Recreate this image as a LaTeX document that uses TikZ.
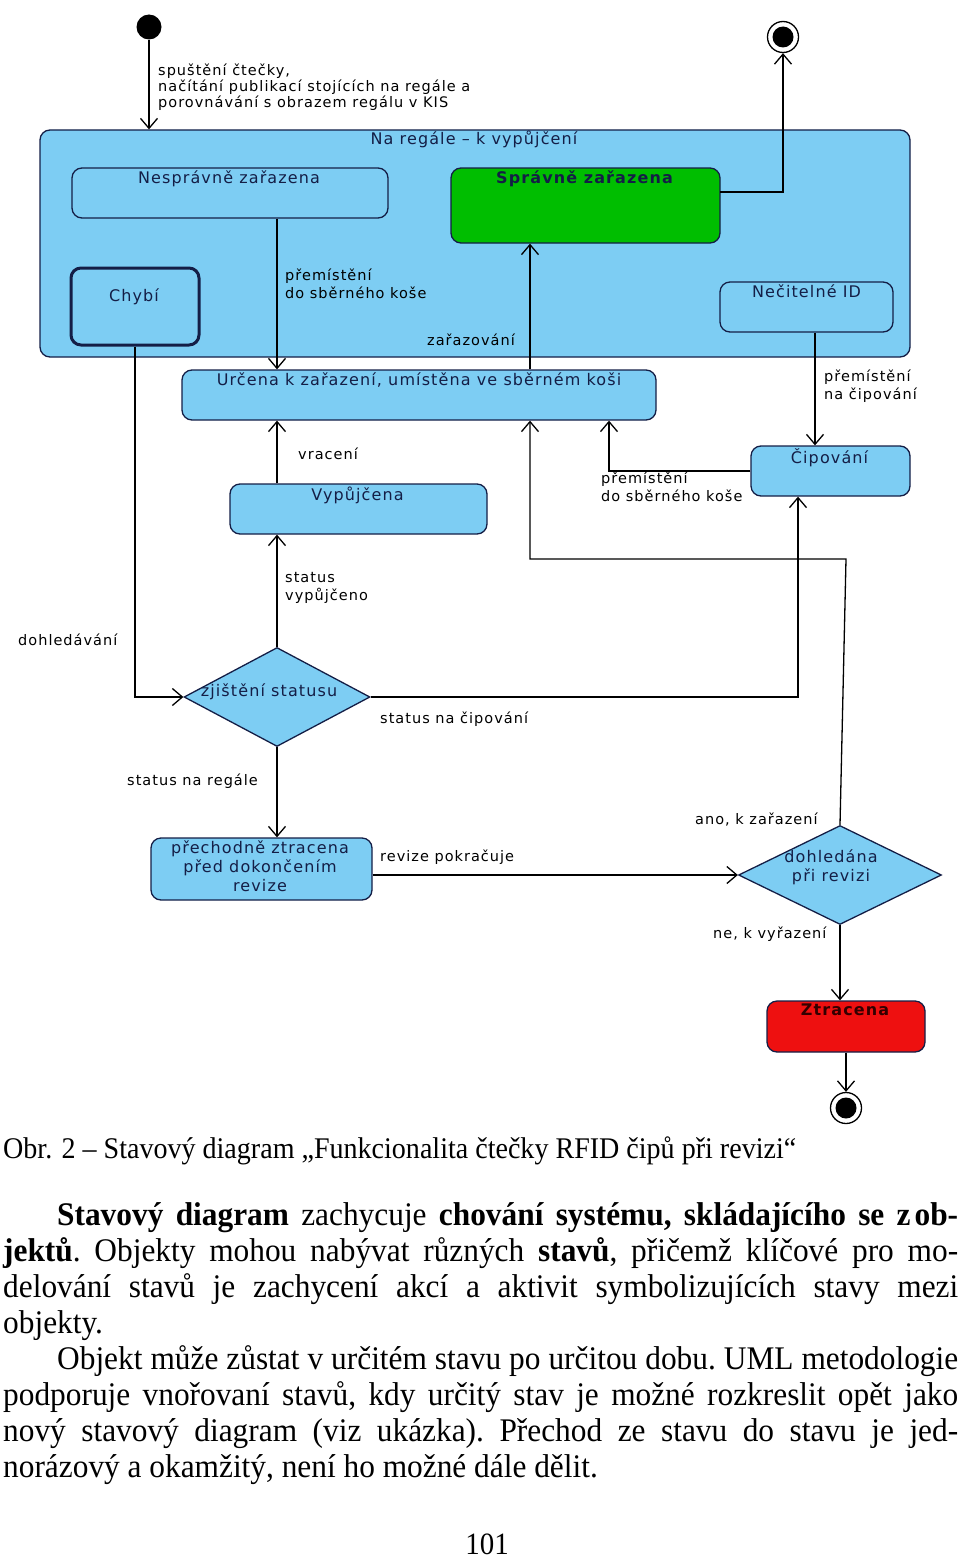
\documentclass[tikz,border=0pt]{standalone}
\usepackage{fontspec}
\usetikzlibrary{arrows.meta,shapes.geometric,calc}
\newfontfamily\diag{DejaVu Sans}[LetterSpace=7]
\newfontfamily\bodyfont{Liberation Serif}[FakeStretch=0.95]
\newfontfamily\capfont{Liberation Serif}[FakeStretch=0.935]
\definecolor{uml}{RGB}{125,205,243}
\definecolor{umlgreen}{RGB}{0,190,0}
\definecolor{umlred}{RGB}{238,16,16}
\definecolor{navy}{RGB}{20,30,70}
\tikzset{
  conn/.style={line width=1.3pt, draw=black},
  arr/.style={conn, -{Straight Barb[length=10pt,width=17pt]}},
  stbox/.style={draw=navy, line width=1.3pt, rounded corners=10pt, fill=uml, inner sep=0pt},
  ttl/.style={font=\diag\fontsize{16}{19}\selectfont, text=navy, inner sep=0pt, align=center},
  lbl/.style={font=\diag\fontsize{14.5}{18}\selectfont, inner sep=0pt, align=left},
  body/.style={font=\bodyfont\fontsize{33}{36}\selectfont\frenchspacing, inner sep=0pt, anchor=base west},
}
\begin{document}
\begin{tikzpicture}[x=1pt,y=-1pt]
\useasboundingbox (0,0) rectangle (960,1560);
% outer composite state
\node[stbox, minimum width=870pt, minimum height=227pt] (outer) at (475,243.5) {};
\node[ttl] (outert) at (474,139) {Na regále – k vypůjčení};
% states
\node[stbox, minimum width=316pt, minimum height=50pt] (nespr) at (230,193) {};
\node[ttl, anchor=north] (nesprt) at ($(nespr.north)+(-1,3)$) {Nesprávně zařazena};
\node[stbox, fill=umlgreen, minimum width=269pt, minimum height=75pt] (sprav) at (585.5,205.5) {};
\node[ttl, anchor=north, font=\diag\bfseries\fontsize{16}{19}\selectfont] (spravt) at ($(sprav.north)+(-1,3)$) {Správně zařazena};
\node[stbox, line width=3pt, minimum width=128pt, minimum height=77pt] (chyb) at (135,306.5) {};
\node[ttl] (chybt) at (134,297) {Chybí};
\node[stbox, minimum width=173pt, minimum height=50pt] (nec) at (806.5,307) {};
\node[ttl, anchor=north] (nect) at ($(nec.north)+(0,3)$) {Nečitelné ID};
\node[stbox, minimum width=474pt, minimum height=50pt] (urc) at (419,395) {};
\node[ttl, anchor=north] (urct) at ($(urc.north)+(0,3)$) {Určena k zařazení, umístěna ve sběrném koši};
\node[stbox, minimum width=159pt, minimum height=50pt] (cip) at (830.5,471) {};
\node[ttl, anchor=north] (cipt) at ($(cip.north)+(-1,3)$) {Čipování};
\node[stbox, minimum width=257pt, minimum height=50pt] (vyp) at (358.5,509) {};
\node[ttl, anchor=north] (vypt) at ($(vyp.north)+(-1,3)$) {Vypůjčena};
\node[stbox, minimum width=221pt, minimum height=62pt] (prech) at (261.5,869) {};
\node[ttl, font=\diag\fontsize{16}{19}\selectfont] (precht) at (260,866) {přechodně ztracena\\před dokončením\\revize};
\node[stbox, fill=umlred, minimum width=158pt, minimum height=51pt] (ztr) at (846,1026.5) {};
\node[ttl, anchor=north, text=black!80!red, font=\diag\bfseries\fontsize{16}{19}\selectfont] (ztrt) at ($(ztr.north)+(-1,3)$) {Ztracena};
% decisions
\node[diamond, draw=navy, fill=uml, line width=1.3pt, minimum width=186pt, minimum height=99pt, inner sep=0pt] (zj) at (277,697) {};
\node[ttl] (zjt) at (269,692) {zjištění statusu};
\node[diamond, draw=navy, fill=uml, line width=1.3pt, minimum width=203pt, minimum height=99pt, inner sep=0pt] (dohl) at (840,875) {};
\node[ttl] (dohlt) at (831,867) {dohledána\\při revizi};
% pseudo states
\node[circle, fill=black, minimum size=25pt, inner sep=0pt] (init) at (149,27) {};
\node[circle, draw=black, fill=white, line width=1.3pt, minimum size=31pt, inner sep=0pt] (fin1) at (783,37) {};
\node[circle, fill=black, minimum size=21pt, inner sep=0pt] (fin1c) at (fin1) {};
\node[circle, draw=black, fill=white, line width=1.3pt, minimum size=31pt, inner sep=0pt] (fin2) at (846,1108) {};
\node[circle, fill=black, minimum size=21pt, inner sep=0pt] (fin2c) at (fin2) {};
% column coordinates
\coordinate (c277) at (277,0);
\coordinate (c530) at (530,0);
\coordinate (c609) at (609,0);
\coordinate (c798) at (798,0);
\coordinate (c815) at (815,0);
\coordinate (s1) at (720,192);
\coordinate (k1) at (846,559);
% connectors
\draw[arr] (init) -- (init |- outer.north);
\draw[arr] (s1) -| (fin1.south);
\draw[arr] (nespr.south -| c277) -- (urc.north -| c277);
\draw[arr] (urc.north -| c530) -- (sprav.south -| c530);
\draw[arr] (nec.south -| c815) -- (cip.north -| c815);
\draw[arr] (cip.west) -| (urc.south -| c609);
\draw[arr] (vyp.north -| c277) -- (urc.south -| c277);
\draw[arr] (zj.north) -- (vyp.south -| zj.north);
\draw[arr] (chyb.south) |- (zj.west);
\draw[arr] (zj.east) -| (cip.south -| c798);
\draw[arr] (zj.south) -- (prech.north -| zj.south);
\draw[arr] (prech.east |- dohl.west) -- (dohl.west);
\draw[arr] (dohl.north) -- (k1) -| (urc.south -| c530);
\draw[arr] (dohl.south) -- (ztr.north -| dohl.south);
\draw[arr] (ztr.south) -- (fin2.north);
% labels
\node[lbl, anchor=north west, font=\diag\fontsize{14.5}{16}\selectfont] (l1) at (158,64) {spuštění čtečky,\\načítání publikací stojících na regále a\\porovnávání s obrazem regálu v KIS};
\node[lbl, anchor=north west] (l2) at (285,269) {přemístění\\do sběrného koše};
\node[lbl, anchor=west] (l3) at (427,340) {zařazování};
\node[lbl, anchor=north west] (l4) at (824,370) {přemístění\\na čipování};
\node[lbl, anchor=west] (l5) at (298,454) {vracení};
\node[lbl, anchor=north west] (l6) at (601,472) {přemístění\\do sběrného koše};
\node[lbl, anchor=north west] (l7) at (285,572) {status\\vypůjčeno};
\node[lbl, anchor=west] (l8) at (18,640) {dohledávání};
\node[lbl, anchor=west] (l9) at (380,719) {status na čipování};
\node[lbl, anchor=west] (l10) at (127,781) {status na regále};
\node[lbl, anchor=west] (l11) at (380,857) {revize pokračuje};
\node[lbl, anchor=west] (l12) at (695,820) {ano, k zařazení};
\node[lbl, anchor=west] (l13) at (713,934) {ne, k vyřazení};
% caption and body text
\node[body, font=\capfont\fontsize{30}{36}\selectfont] (cap) at (3,1158) {Obr. 2 – Stavový diagram „Funkcionalita čtečky RFID čipů při revizi“};
\node[body] (b1) at (3,1225) {\makebox[955pt][s]{\hspace*{54pt}\textbf{Stavový diagram} zachycuje \textbf{chování systému, skládajícího se z\hspace{4pt}ob-}}};
\node[body] (b2) at (3,1261) {\makebox[955pt][s]{\textbf{jektů}. Objekty mohou nabývat různých \textbf{stavů}, přičemž klíčové pro mo-}};
\node[body] (b3) at (3,1297) {\makebox[955pt][s]{delování stavů je zachycení akcí a aktivit symbolizujících stavy mezi}};
\node[body] (b4) at (3,1333) {objekty.};
\node[body] (b5) at (3,1369) {\makebox[955pt][s]{\hspace*{54pt}Objekt může zůstat v určitém stavu po určitou dobu. UML metodologie}};
\node[body] (b6) at (3,1405) {\makebox[955pt][s]{podporuje vnořovaní stavů, kdy určitý stav je možné rozkreslit opět jako}};
\node[body] (b7) at (3,1441) {\makebox[955pt][s]{nový stavový diagram (viz ukázka). Přechod ze stavu do stavu je jed-}};
\node[body] (b8) at (3,1477) {norázový a okamžitý, není ho možné dále dělit.};
\node[body, anchor=base, font=\capfont\fontsize{31}{36}\selectfont] (pg) at (487,1554) {101};
\end{tikzpicture}
\end{document}
